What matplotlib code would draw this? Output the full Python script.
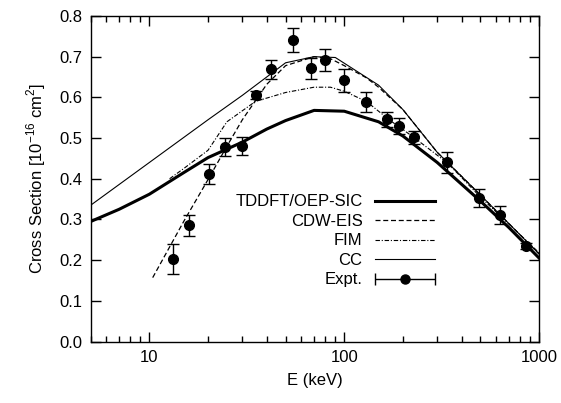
import numpy as np
import matplotlib
matplotlib.use("Agg")
import matplotlib.pyplot as plt
from matplotlib.ticker import LogLocator, NullFormatter, FixedLocator
from matplotlib.legend_handler import HandlerErrorbar

plt.rcParams["font.family"] = ["Liberation Sans", "DejaVu Sans"]
plt.rcParams["mathtext.fontset"] = "custom"
plt.rcParams["mathtext.rm"] = "Liberation Sans"

# Theory curves (energy in keV, cross section in 1e-16 cm^2)
tddft_e = [5, 7, 10, 15, 20, 30, 40, 50, 70, 100, 150, 200, 300, 500, 700, 1000]
tddft_s = [0.295, 0.325, 0.362, 0.415, 0.452, 0.49, 0.522, 0.543, 0.568, 0.566,
           0.54, 0.505, 0.44, 0.345, 0.28, 0.205]

cdw_e = [10.4, 15, 20, 25, 30, 40, 50, 70, 85, 100, 130, 150, 200, 300, 500, 1000]
cdw_s = [0.157, 0.295, 0.398, 0.48, 0.545, 0.632, 0.678, 0.70, 0.695, 0.678,
         0.648, 0.625, 0.57, 0.465, 0.36, 0.215]

fim_e = [12.7, 15, 20, 25, 35, 50, 70, 85, 100, 130, 170, 230, 340, 500, 1000]
fim_s = [0.40, 0.425, 0.47, 0.54, 0.59, 0.612, 0.625, 0.625, 0.615, 0.59,
         0.545, 0.50, 0.438, 0.355, 0.218]

cc_e = [5, 10, 20, 30, 50, 70, 90, 150, 200, 300, 500, 1000]
cc_s = [0.335, 0.44, 0.545, 0.605, 0.685, 0.70, 0.698, 0.63, 0.57, 0.465, 0.36, 0.215]

# Experiment
exp_e = [13.2, 16.0, 20.2, 24.3, 29.8, 35.3, 42.1, 54.6, 67.6, 79.4, 99.8,
         129.5, 166.6, 190.6, 227.5, 336, 494, 631, 858]
exp_s = [0.203, 0.286, 0.411, 0.477, 0.481, 0.605, 0.669, 0.741, 0.671, 0.692,
         0.642, 0.589, 0.546, 0.530, 0.502, 0.440, 0.352, 0.312, 0.235]
exp_err = [0.036, 0.026, 0.025, 0.022, 0.022, 0.01, 0.024, 0.03, 0.027, 0.028,
           0.028, 0.025, 0.018, 0.02, 0.016, 0.025, 0.022, 0.022, 0.008]

fig = plt.figure(figsize=(5.61, 4.03), dpi=100)
ax = fig.add_axes([0.1617, 0.1526, 0.7993, 0.8077])

ax.plot(tddft_e, tddft_s, color="black", lw=2.2, label="TDDFT/OEP-SIC")
ax.plot(cdw_e, cdw_s, color="black", lw=0.9, dashes=(4, 2.2), label="CDW-EIS")
ax.plot(fim_e, fim_s, color="black", lw=0.8, dashes=(4, 1.6, 1, 1.6), label="FIM")
ax.plot(cc_e, cc_s, color="black", lw=0.8, label="CC")
ax.errorbar(exp_e, exp_s, yerr=exp_err, fmt="o", color="black", ms=7,
            elinewidth=1, capsize=4, capthick=1)

# horizontal errorbar proxy for the legend sample (nothing visible on the axes)
proxy = ax.errorbar([np.nan], [np.nan], xerr=[1.0], fmt="o", color="black", ms=6.5,
                    elinewidth=1, capsize=4, capthick=1, label="Expt.")

ax.set_xscale("log")
ax.set_xlim(5, 1000)
ax.set_ylim(0, 0.8)

ax.xaxis.set_major_locator(FixedLocator([10, 100, 1000]))
ax.xaxis.set_minor_locator(LogLocator(base=10, subs=np.arange(2, 10)))
ax.xaxis.set_minor_formatter(NullFormatter())
ax.set_xticklabels(["10", "100", "1000"])
ax.set_yticks(np.arange(0, 0.81, 0.1))
ax.set_yticklabels(["%.1f" % v for v in np.arange(0, 0.81, 0.1)])

ax.tick_params(which="both", direction="in", top=True, right=True,
               labelsize=12, width=1, pad=6)
ax.tick_params(which="major", length=7)
ax.tick_params(which="minor", length=4)
for s in ax.spines.values():
    s.set_linewidth(1)

ax.set_xlabel("E (keV)", fontsize=12, labelpad=6)
ax.set_ylabel("Cross Section [10$^{-16}$ cm$^2$]", fontsize=12, labelpad=8)

handles, labels = ax.get_legend_handles_labels()
hlen = 3.6
leg = ax.legend(handles, labels, loc="upper right", bbox_to_anchor=(0.768, 0.452),
                frameon=False, markerfirst=False, fontsize=12, handlelength=hlen,
                handletextpad=0.75, labelspacing=0.27, borderpad=0, borderaxespad=0,
                numpoints=1,
                handler_map={proxy: HandlerErrorbar(xerr_size=hlen / 2)})

fig.savefig("out.png", dpi=100)
